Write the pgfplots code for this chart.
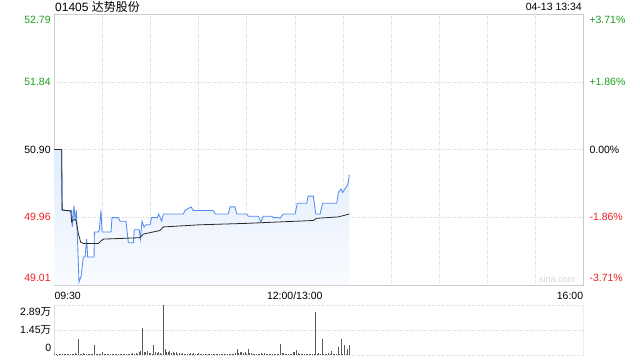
\documentclass[border=0pt]{standalone}
\usepackage{pgfplots}
\pgfplotsset{compat=1.18}
\usepackage{pgfplotstable}
\usepackage{fontspec}
\setmainfont{Liberation Sans}
\newfontfamily\cjk{Noto Sans CJK SC}
\definecolor{upg}{RGB}{26,160,26}
\definecolor{dnr}{RGB}{236,34,34}
\definecolor{bl}{RGB}{84,140,240}
\definecolor{gridc}{RGB}{212,212,212}
\definecolor{framec}{RGB}{205,205,205}
\definecolor{filltop}{RGB}{226,236,252}
\definecolor{fillbot}{RGB}{249,251,255}
\definecolor{avgc}{RGB}{40,40,40}
\definecolor{volc}{RGB}{90,90,90}

\pgfplotstableread{
v
0.12
0.03
0.02
0.04
0.03
0.05
0.04
0.06
0.03
0.05
0.08
0.04
0.06
0.10
0.05
0.94
0.08
0.05
0.12
0.06
0.04
0.07
0.05
0.03
0.06
0.58
0.05
0.04
0.08
0.06
0.20
0.07
0.05
0.04
0.06
0.03
0.05
0.04
0.06
0.03
0.05
0.04
0.07
0.03
0.05
0.04
0.08
0.04
0.06
0.10
0.05
0.12
0.06
0.18
0.25
1.58
0.20
0.15
0.22
0.12
0.10
0.08
0.58
0.15
0.10
0.20
0.12
0.08
2.89
0.35
0.20
0.15
0.22
0.12
0.18
0.10
0.15
0.08
0.12
0.06
0.10
0.05
0.08
0.06
0.05
0.10
0.06
0.12
0.05
0.08
0.10
0.05
0.06
0.04
0.06
0.05
0.08
0.04
0.05
0.06
0.04
0.05
0.07
0.04
0.06
0.05
0.04
0.06
0.05
0.04
0.06
0.08
0.05
0.10
0.35
0.12
0.15
0.20
0.10
0.18
0.08
0.35
0.12
0.10
0.06
0.08
0.05
0.06
0.04
0.10
0.08
0.12
0.05
0.06
0.04
0.05
0.06
0.04
0.08
0.05
0.06
0.64
0.10
0.12
0.06
0.08
0.05
0.06
0.04
0.20
0.15
0.30
0.10
0.06
0.08
0.05
0.06
0.04
0.05
0.06
0.04
0.03
0.05
2.50
0.06
0.10
0.05
0.94
0.06
0.08
0.05
0.10
0.06
0.23
0.08
0.06
0.05
0.48
0.05
0.94
0.06
0.58
0.05
0.36
0.58
}\voltab

\begin{document}
\begin{tikzpicture}
\path[use as bounding box] (0pt,0pt) rectangle (640pt,360pt);
\node[anchor=west,inner sep=0,font=\fontsize{12}{12}\selectfont] at (55pt,353.5pt) {01405 {\cjk 达势股份}};
\node[anchor=east,inner sep=0,font=\fontsize{10.5}{10.5}\selectfont] at (582pt,353.5pt) {04-13 13:34};

\begin{axis}[at={(54.3pt,75pt)},anchor=south west,width=529pt,height=271pt,scale only axis,
  xmin=0,xmax=330,ymin=49.01,ymax=52.79,
  xtick={30,60,...,300},ytick={49.96,50.90,51.84},
  xticklabels={},yticklabels={},major tick length=0pt,
  grid=major,grid style={gridc,dotted,line width=0.5pt},
  axis line style={framec,line width=0.6pt}]
\addplot[draw=none,top color=filltop,bottom color=fillbot] coordinates {
(0,49.01)(0,50.90)(4.6,50.90)(4.8,50.05)(10.8,50.05)(11.2,49.82)(12.3,50.12)(13.0,49.90)(13.8,50.05)(14.4,49.70)(15.4,49.05)(16.7,49.13)(18.1,49.40)(19.2,49.40)(20.2,49.65)(20.8,49.40)(24.8,49.40)(25.0,49.75)(27.5,49.75)(28.1,49.78)(29.1,50.05)(29.8,49.75)(35.4,49.75)(36.0,49.95)(39.9,49.95)(41.0,49.90)(44.7,49.90)(46.2,49.60)(49.3,49.60)(49.9,49.78)(53.0,49.78)(53.7,49.65)(54.7,49.90)(56.0,49.82)(57.2,49.85)(59.7,49.85)(60.7,49.95)(64.3,49.95)(65.1,50.00)(67.0,49.90)(68.0,50.00)(80.5,50.00)(81.5,50.05)(85.3,50.10)(86.7,50.05)(99.2,50.05)(100.4,50.00)(108.5,50.00)(109.6,50.10)(112.7,50.10)(113.8,50.00)(120.0,50.00)(121.0,49.97)(127.3,49.97)(128.8,49.89)(130.4,49.97)(135.6,49.97)(136.6,49.95)(139.7,49.95)(140.8,49.94)(141.8,49.97)(142.9,50.00)(150.2,50.00)(151.6,50.15)(157.5,50.15)(158.3,50.25)(161.6,50.25)(163.1,50.00)(165.8,50.00)(167.4,50.15)(176.2,50.15)(177.2,50.30)(178.9,50.35)(179.9,50.30)(181.3,50.35)(182.3,50.38)(183.3,50.43)(184,50.55)(184,49.01)} -- cycle;
\addplot[bl,line width=0.85pt] coordinates {
(0,50.90)(4.6,50.90)(4.8,50.05)(10.8,50.05)(11.2,49.82)(12.3,50.12)(13.0,49.90)(13.8,50.05)(14.4,49.70)(15.4,49.05)(16.7,49.13)(18.1,49.40)(19.2,49.40)(20.2,49.65)(20.8,49.40)(24.8,49.40)(25.0,49.75)(27.5,49.75)(28.1,49.78)(29.1,50.05)(29.8,49.75)(35.4,49.75)(36.0,49.95)(39.9,49.95)(41.0,49.90)(44.7,49.90)(46.2,49.60)(49.3,49.60)(49.9,49.78)(53.0,49.78)(53.7,49.65)(54.7,49.90)(56.0,49.82)(57.2,49.85)(59.7,49.85)(60.7,49.95)(64.3,49.95)(65.1,50.00)(67.0,49.90)(68.0,50.00)(80.5,50.00)(81.5,50.05)(85.3,50.10)(86.7,50.05)(99.2,50.05)(100.4,50.00)(108.5,50.00)(109.6,50.10)(112.7,50.10)(113.8,50.00)(120.0,50.00)(121.0,49.97)(127.3,49.97)(128.8,49.89)(130.4,49.97)(135.6,49.97)(136.6,49.95)(139.7,49.95)(140.8,49.94)(141.8,49.97)(142.9,50.00)(150.2,50.00)(151.6,50.15)(157.5,50.15)(158.3,50.25)(161.6,50.25)(163.1,50.00)(165.8,50.00)(167.4,50.15)(176.2,50.15)(177.2,50.30)(178.9,50.35)(179.9,50.30)(181.3,50.35)(182.3,50.38)(183.3,50.43)(184,50.55)};
\addplot[avgc,line width=0.8pt] coordinates {
(0,50.90)(4.6,50.90)(4.9,50.06)(10.3,50.04)(10.8,49.89)(11.9,49.92)(13.5,49.92)(15.0,49.73)(16.4,49.61)(18.1,49.59)(27.5,49.59)(28.9,49.62)(30.6,49.65)(53.5,49.67)(55.5,49.72)(65.9,49.77)(68.0,49.82)(90.9,49.85)(120,49.87)(161.6,49.91)(163.5,49.94)(177.2,49.96)(184,50.00)};
\coordinate (L1) at (axis cs:0,52.79);
\coordinate (L2) at (axis cs:0,51.84);
\coordinate (L3) at (axis cs:0,50.90);
\coordinate (L4) at (axis cs:0,49.96);
\coordinate (L5) at (axis cs:0,49.01);
\coordinate (R1) at (axis cs:330,52.79);
\coordinate (R2) at (axis cs:330,51.84);
\coordinate (R3) at (axis cs:330,50.90);
\coordinate (R4) at (axis cs:330,49.96);
\coordinate (R5) at (axis cs:330,49.01);
\coordinate (X1) at (axis cs:0,49.01);
\coordinate (X2) at (axis cs:150,49.01);
\coordinate (X3) at (axis cs:330,49.01);
\end{axis}

\begin{scope}[every node/.style={inner sep=0,font=\fontsize{10.5}{10.5}\selectfont}]
\node[anchor=east,text=upg,yshift=-6pt,xshift=-3.5pt] at (L1) {52.79};
\node[anchor=east,text=upg,xshift=-3.5pt] at (L2) {51.84};
\node[anchor=east,text=black,xshift=-3.5pt] at (L3) {50.90};
\node[anchor=east,text=dnr,xshift=-3.5pt] at (L4) {49.96};
\node[anchor=east,text=dnr,yshift=7pt,xshift=-3.5pt] at (L5) {49.01};
\node[anchor=west,text=upg,yshift=-6pt,xshift=6pt] at (R1) {+3.71\%};
\node[anchor=west,text=upg,xshift=6pt] at (R2) {+1.86\%};
\node[anchor=west,text=black,xshift=6pt] at (R3) {0.00\%};
\node[anchor=west,text=dnr,xshift=6pt] at (R4) {-1.86\%};
\node[anchor=west,text=dnr,yshift=7pt,xshift=6pt] at (R5) {-3.71\%};
\node[anchor=west,yshift=-11pt] at (X1) {09:30};
\node[anchor=center,yshift=-11pt] at (X2) {12:00/13:00};
\node[anchor=east,yshift=-11pt] at (X3) {16:00};
\node[anchor=south east,text=gridc,yshift=2pt,xshift=-8pt,font=\fontsize{9}{9}\selectfont] at (X3) {sina.com};
\end{scope}

\begin{axis}[at={(54.3pt,5pt)},anchor=south west,width=529pt,height=50pt,scale only axis,
  xmin=0,xmax=330,ymin=0,ymax=2.89,
  xtick=\empty,ytick={1.45},yticklabels={},major tick length=0pt,
  ymajorgrids,grid style={gridc,dotted,line width=0.5pt},
  axis line style={draw=none}]
\draw[gridc,dotted,line width=0.5pt] (rel axis cs:0,1) -- (rel axis cs:1,1);
\draw[gridc,dotted,line width=0.5pt] (rel axis cs:0,0) -- (rel axis cs:1,0);
\draw[framec,line width=0.6pt] (rel axis cs:0,0) -- (rel axis cs:0,1);
\draw[framec,line width=0.6pt] (rel axis cs:1,0) -- (rel axis cs:1,1);
\addplot[ycomb,volc,line width=0.75pt] table[x expr=\coordindex,y=v] {\voltab};
\coordinate (V1) at (axis cs:0,2.89);
\coordinate (V2) at (axis cs:0,1.45);
\coordinate (V3) at (axis cs:0,0);
\end{axis}
\begin{scope}[every node/.style={inner sep=0,font=\fontsize{10.5}{10.5}\selectfont}]
\node[anchor=east,yshift=-7pt,xshift=-3pt] at (V1) {2.89{\cjk 万}};
\node[anchor=east,xshift=-3pt] at (V2) {1.45{\cjk 万}};
\node[anchor=east,yshift=7pt,xshift=-3pt] at (V3) {0};
\end{scope}
\end{tikzpicture}
\end{document}
